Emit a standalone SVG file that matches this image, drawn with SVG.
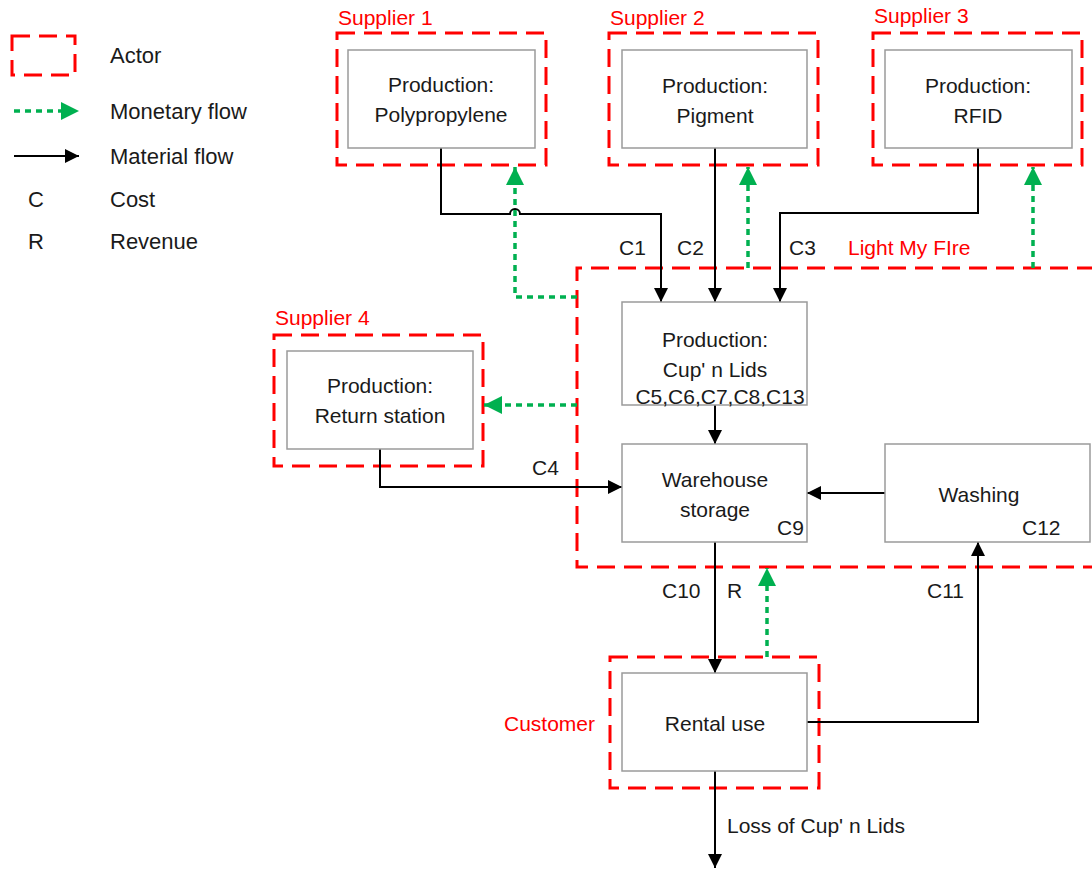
<svg xmlns="http://www.w3.org/2000/svg" width="1092" height="870" viewBox="0 0 1092 870">
<style>
text{font-family:"Liberation Sans",Arial,sans-serif;font-size:21px;fill:#1a1a1a}
.lg{font-size:22px}
.lbl{fill:#ff0000}
.actor{fill:none;stroke:#ff0000;stroke-width:3;stroke-dasharray:18 9}
.box{fill:#fff;stroke:#9a9a9a;stroke-width:1.5}
.mat{fill:none;stroke:#000;stroke-width:2}
.mon{fill:none;stroke:#00b050;stroke-width:3.5;stroke-dasharray:6 5}
</style>
<defs>
<marker id="ab" markerUnits="userSpaceOnUse" markerWidth="16" markerHeight="16" refX="14" refY="7" orient="auto"><path d="M0,0 L14,7 L0,14 Z" fill="#000"/></marker>
<marker id="ag" markerUnits="userSpaceOnUse" markerWidth="20" markerHeight="20" refX="18" refY="9" orient="auto"><path d="M0,0 L18,9 L0,18 Z" fill="#00b050"/></marker>
</defs>
<g id="legend">
<rect class="actor" x="12" y="36" width="63" height="39"/>
<text class="lg" x="110" y="63">Actor</text>
<line class="mon" x1="14" y1="111" x2="79" y2="111" marker-end="url(#ag)"/>
<text class="lg" x="110" y="119">Monetary flow</text>
<line class="mat" x1="14" y1="156" x2="79" y2="156" marker-end="url(#ab)"/>
<text class="lg" x="110" y="164">Material flow</text>
<text class="lg" x="28" y="207">C</text><text class="lg" x="110" y="207">Cost</text>
<text class="lg" x="28" y="249">R</text><text class="lg" x="110" y="249">Revenue</text>
</g>
<g id="actors">
<rect class="actor" x="337" y="33" width="209" height="132"/>
<text class="lbl" x="338" y="25">Supplier 1</text>
<rect class="actor" x="609" y="33" width="209" height="132"/>
<text class="lbl" x="610" y="25">Supplier 2</text>
<rect class="actor" x="873" y="33" width="209" height="132"/>
<text class="lbl" x="874" y="23">Supplier 3</text>
<path class="actor" d="M1095,268 H577 V567 H1095"/>
<text class="lbl" x="848" y="255">Light My FIre</text>
<rect class="actor" x="274" y="335" width="209" height="131"/>
<text class="lbl" x="275" y="325">Supplier 4</text>
<rect class="actor" x="610" y="657" width="209" height="131"/>
<text class="lbl" x="504" y="731">Customer</text>
</g>
<g id="connectors">
<path class="mat" d="M441,148 V214 H510 A5,5 0 0 1 520,214 H661 V302" marker-end="url(#ab)"/>
<path class="mat" d="M715,148 V302" marker-end="url(#ab)"/>
<path class="mat" d="M978,148 V213 H780 V302" marker-end="url(#ab)"/>
<path class="mat" d="M715,405 V444" marker-end="url(#ab)"/>
<path class="mat" d="M380,449 V487 H622" marker-end="url(#ab)"/>
<path class="mat" d="M885,493 H807" marker-end="url(#ab)"/>
<path class="mat" d="M715,542 V673" marker-end="url(#ab)"/>
<path class="mat" d="M807,722 H978 V542" marker-end="url(#ab)"/>
<path class="mat" d="M715,771 V868" marker-end="url(#ab)"/>
<path class="mon" d="M577,297 H515 V167" marker-end="url(#ag)"/>
<path class="mon" d="M748,268 V167" marker-end="url(#ag)"/>
<path class="mon" d="M1033,268 V167" marker-end="url(#ag)"/>
<path class="mon" d="M577,405 H484" marker-end="url(#ag)"/>
<path class="mon" d="M767,657 V568" marker-end="url(#ag)"/>
<text x="619" y="255">C1</text>
<text x="677" y="255">C2</text>
<text x="789" y="255">C3</text>
<text x="532" y="475">C4</text>
<text x="662" y="598">C10</text>
<text x="727" y="598">R</text>
<text x="927" y="598">C11</text>
<text x="727" y="833">Loss of Cup' n Lids</text>
</g>
<g id="n-polypropylene">
<rect class="box" x="348" y="50" width="187" height="98"/>
<text x="441" y="92" text-anchor="middle">Production:</text>
<text x="441" y="122" text-anchor="middle">Polypropylene</text>
</g>
<g id="n-pigment">
<rect class="box" x="622" y="50" width="185" height="98"/>
<text x="715" y="93" text-anchor="middle">Production:</text>
<text x="715" y="123" text-anchor="middle">Pigment</text>
</g>
<g id="n-rfid">
<rect class="box" x="885" y="50" width="187" height="98"/>
<text x="978" y="93" text-anchor="middle">Production:</text>
<text x="978" y="123" text-anchor="middle">RFID</text>
</g>
<g id="n-cups">
<rect class="box" x="622" y="302" width="185" height="103"/>
<text x="715" y="347" text-anchor="middle">Production:</text>
<text x="715" y="377" text-anchor="middle">Cup' n Lids</text>
<text x="720" y="404" text-anchor="middle">C5,C6,C7,C8,C13</text>
</g>
<g id="n-return">
<rect class="box" x="287" y="351" width="186" height="98"/>
<text x="380" y="393" text-anchor="middle">Production:</text>
<text x="380" y="423" text-anchor="middle">Return station</text>
</g>
<g id="n-warehouse">
<rect class="box" x="622" y="444" width="185" height="98"/>
<text x="715" y="487" text-anchor="middle">Warehouse</text>
<text x="715" y="517" text-anchor="middle">storage</text>
<text x="777" y="535">C9</text>
</g>
<g id="n-washing">
<rect class="box" x="885" y="444" width="205" height="98"/>
<text x="979" y="502" text-anchor="middle">Washing</text>
<text x="1022" y="535">C12</text>
</g>
<g id="n-rental">
<rect class="box" x="622" y="673" width="185" height="98"/>
<text x="715" y="731" text-anchor="middle">Rental use</text>
</g>
</svg>
